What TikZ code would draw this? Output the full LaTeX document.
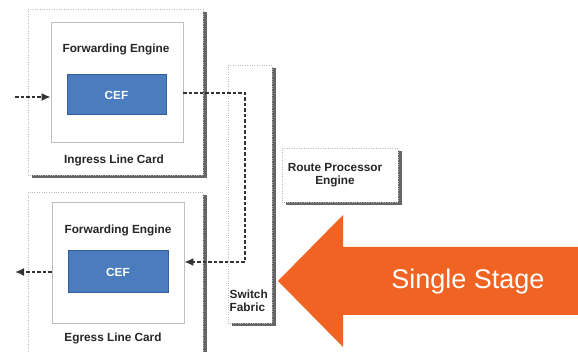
\documentclass[tikz,border=0pt]{standalone}
\usepackage{fontspec}
\setmainfont{Liberation Sans}
\usetikzlibrary{shadows,arrows.meta}
\definecolor{orangeA}{RGB}{241,99,34}
\definecolor{cefblue}{RGB}{74,124,190}
\definecolor{cefedge}{RGB}{52,92,152}
\begin{document}
\begin{tikzpicture}[x=1pt,y=-1pt,
  card/.style={draw=gray!55, dotted, fill=white, inner sep=0pt,
    general shadow={fill=gray!80!black, shadow xshift=3.5pt, shadow yshift=-3.5pt}},
  fe/.style={draw=gray!50, fill=white, line width=0.8pt, inner sep=0pt},
  cef/.style={draw=cefedge, fill=cefblue, line width=1pt, text=white, inner sep=0pt,
    font=\bfseries\fontsize{11.8}{13}\selectfont},
  lbl/.style={font=\bfseries\fontsize{11.8}{13}\selectfont, text=black!85},
  flow/.style={dash pattern=on 3.5pt off 2pt, line width=1.6pt, black!80,
    -{Latex[length=9pt,width=8pt]}}]
\useasboundingbox (0,0) rectangle (578,352);
% ingress line card
\node[card, minimum width=175pt, minimum height=166pt] (ing) at (115.5,92) {};
\node[fe, minimum width=132pt, minimum height=120pt] (ingFE) at (117,82) {};
\node[cef, minimum width=99pt, minimum height=40pt] (ingCEF) at (116.5,95) {CEF};
\node[lbl] (ingFEl) at (116,49) {Forwarding Engine};
\node[lbl] (ingl) at (114,160) {Ingress Line Card};
% switch fabric
\node[card, minimum width=44pt, minimum height=258pt] (sf) at (250,194) {};
\node[lbl, align=left, anchor=north west, inner sep=0pt] (sfl) at (229.5,290) {Switch\\Fabric};
% route processor
\node[card, minimum width=116pt, minimum height=54pt] (rpe) at (340,175) {};
\node[lbl, align=center] (rpel) at (335,175) {Route Processor\\Engine};
% egress line card
\node[card, minimum width=175pt, minimum height=168pt] (eg) at (115.5,276) {};
\node[fe, minimum width=132pt, minimum height=121pt] (egFE) at (118,262.5) {};
\node[cef, minimum width=100pt, minimum height=42pt] (egCEF) at (118,272) {CEF};
\node[lbl] (egFEl) at (118,230) {Forwarding Engine};
\node[lbl] (egl) at (113,338) {Egress Line Card};
% flows
\coordinate (in) at (15,97);
\draw[flow] (in) -- (in -| ingFE.west);
\coordinate (sfTop) at (245,93);
\coordinate (sfBot) at (245,262);
\draw[flow] (sfTop -| ingFE.east) -- (sfTop) -- (sfBot) -- (sfBot -| egFE.east);
\coordinate (out) at (15,272);
\draw[flow] (out -| egFE.west) -- (out);
% big arrow
\fill[orangeA] (578,247) -- (343,247) -- (343,215) -- (278,281) -- (343,347) -- (343,315) -- (578,315) -- cycle;
\node[text=white, font=\fontsize{27}{30}\selectfont] (ss) at (468,282) {Single Stage};
\end{tikzpicture}
\end{document}
